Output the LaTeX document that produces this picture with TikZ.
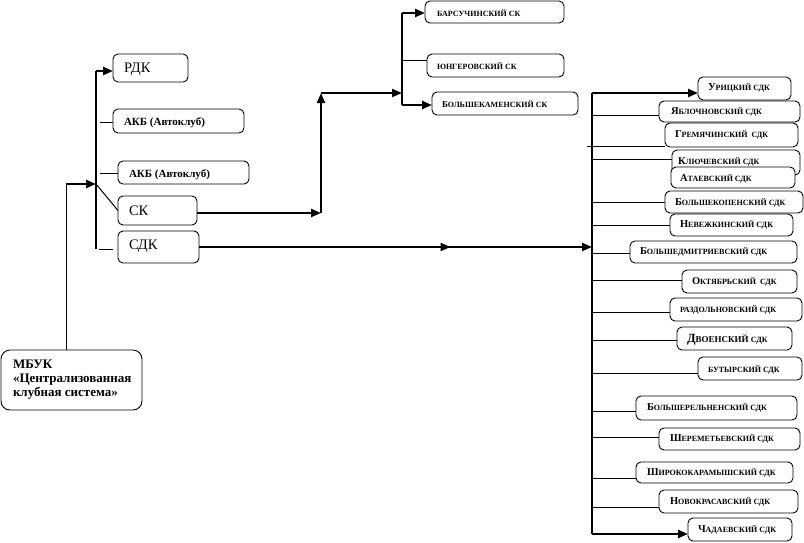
\documentclass[tikz,border=0pt]{standalone}
\usepackage{fontspec}
\setmainfont{Liberation Serif}
\usetikzlibrary{arrows.meta,decorations.markings}
\newcommand\cp[2]{{\fontsize{10.5}{12}\selectfont #1}{\fontsize{8}{10}\selectfont #2}}
\newcommand\bx[5]{\node[bbox, minimum width={(#4-#2)*1pt}, minimum height={(#5-#3)*1pt}, anchor=north west] (#1) at (#2,#3) {};}
\tikzset{
  bbox/.style={draw, fill=white, rounded corners=5pt, line width=0.9pt, inner sep=0pt, outer sep=0pt},
  lbl/.style={inner sep=0pt, outer sep=0pt, anchor=west, font=\bfseries},
  thinln/.style={line width=1pt},
  trunk/.style={line width=1.4pt},
  thickln/.style={line width=2.4pt},
  tip/.style={-{Triangle[length=10pt,width=8pt]}},
  midtip/.style={postaction={decorate}, decoration={markings, mark=at position #1 with {\arrow{Triangle[length=10pt,width=8pt]}}}},
}
\begin{document}
\begin{tikzpicture}[x=1pt,y=-1pt]
\useasboundingbox[fill=white] (0,0) rectangle (804,542);
% left boxes
\bx{rdk}{113}{54}{188}{82}
\bx{akbA}{113}{109}{244}{133}
\bx{akbB}{118}{161}{249}{184}
\bx{sk}{118}{196}{197}{225}
\bx{sdk}{118}{231}{199}{263}
\node[bbox, rounded corners=9pt, minimum width=141pt, minimum height=60pt, anchor=north west] (mbuk) at (1,350) {};
\node[lbl, font=\fontsize{14.5}{16}\selectfont] (trdk) at (124,69) {РДК};
\node[lbl, font=\bfseries\fontsize{11}{13}\selectfont] (takbA) at (124,123) {АКБ (Автоклуб)};
\node[lbl, font=\bfseries\fontsize{11}{13}\selectfont] (takbB) at (129,175) {АКБ (Автоклуб)};
\node[lbl, font=\fontsize{14.5}{16}\selectfont] (tsk) at (129,211) {СК};
\node[lbl, font=\fontsize{14.5}{16}\selectfont] (tsdk) at (129,246) {СДК};
\node[lbl, anchor=north west, align=left, font=\bfseries\fontsize{13}{14}\selectfont] (tmbuk) at (13,360) {МБУК\\«Централизованная\\клубная система»};
% top boxes
\bx{bars}{425}{1}{564}{23}
\bx{yung}{427}{54}{564}{77}
\bx{bkam}{432}{92}{578}{115}
\node[lbl] (tbars) at (437,13) {\cp{}{БАРСУЧИНСКИЙ СК}};
\node[lbl] (tyung) at (437,66) {\cp{}{ЮНГЕРОВСКИЙ СК}};
\node[lbl] (tbkam) at (442,104) {\cp{\fontsize{9}{10}\selectfont Б}{ОЛЬШЕКАМЕНСКИЙ СК}};
% right boxes
\bx{uric}{698}{77}{791}{100}
\bx{yabl}{659}{101}{800}{122}
\bx{grem}{665}{123}{798}{147}
\bx{klyu}{672}{150}{800}{175}
\node[lbl] (tklyu) at (678,162) {\cp{К}{ЛЮЧЕВСКИЙ СДК}};
\bx{atae}{671}{167}{795}{188}
\bx{bkop}{665}{191}{803}{213}
\bx{nevz}{670}{214}{793}{236}
\bx{bdmi}{630}{241}{797}{263}
\bx{okt}{682}{270}{797}{293}
\bx{razd}{670}{298}{802}{321}
\bx{dvoe}{677}{327}{792}{350}
\bx{butr}{698}{357}{802}{380}
\bx{brel}{636}{396}{797}{420}
\bx{sher}{659}{428}{800}{450}
\bx{shir}{636}{462}{793}{483}
\bx{novo}{659}{490}{798}{513}
\bx{chad}{688}{518}{792}{541}
\node[lbl] (turic) at (708,88) {\cp{У}{РИЦКИЙ СДК}};
\node[lbl] (tyabl) at (671,112) {\cp{Я}{БЛОЧНОВСКИЙ СДК}};
\node[lbl] (tgrem) at (675,135) {\cp{Г}{РЕМЯЧИНСКИЙ \ СДК}};
\node[lbl] (tatae) at (680,179) {\cp{А}{ТАЕВСКИЙ СДК}};
\node[lbl] (tbkop) at (675,203) {\cp{Б}{ОЛЬШЕКОПЕНСКИЙ СДК}};
\node[lbl] (tnevz) at (680,225) {\cp{Н}{ЕВЕЖКИНСКИЙ СДК}};
\node[lbl] (tbdmi) at (640,252) {\cp{Б}{ОЛЬШЕДМИТРИЕВСКИЙ СДК}};
\node[lbl] (tokt) at (692,282) {\cp{О}{КТЯБРЬСКИЙ \ СДК}};
\node[lbl] (trazd) at (680,310) {\cp{}{РАЗДОЛЬНОВСКИЙ СДК}};
\node[lbl] (tdvoe) at (687,340) {\cp{\fontsize{12.5}{14}\selectfont Д}{\fontsize{9}{11}\selectfont ВОЕНСКИЙ \fontsize{8}{10}\selectfont СДК}};
\node[lbl] (tbutr) at (708,370) {\cp{}{БУТЫРСКИЙ СДК}};
\node[lbl] (tbrel) at (647,408) {\cp{Б}{ОЛЬШЕРЕЛЬНЕНСКИЙ СДК}};
\node[lbl] (tsher) at (670,439) {\cp{Ш}{ЕРЕМЕТЬЕВСКИЙ СДК}};
\node[lbl] (tshir) at (647,473) {\cp{Ш}{ИРОКОКАРАМЫШСКИЙ СДК}};
\node[lbl] (tnovo) at (670,502) {\cp{Н}{ОВОКРАСАВСКИЙ СДК}};
\node[lbl] (tchad) at (698,530) {\cp{Ч}{АДАЕВСКИЙ СДК}};
% ---- left connectors
\coordinate (lA) at (66,184);
\coordinate (lB) at (96,184);
\coordinate (lTop) at (96,71);
\coordinate (lBot) at (96,249);
\draw[thinln] (lA |- mbuk.north) -- (lA);
\draw[thickln, tip] (lA) -- (lB);
\draw[trunk] (lTop) -- (lBot);
\draw[thickln, tip] (lTop) -- (lTop -| rdk.west);
\coordinate (tkA) at (100,122);
\coordinate (tkB) at (100,173);
\coordinate (tkC) at (99,249);
\coordinate (tkCe) at (113,249);
\draw[thinln] (tkA) -- (tkA -| akbA.west);
\draw[thinln] (tkB) -- (tkB -| akbB.west);
\draw[thinln] (lB) -- (sk.west);
\draw[thinln] (tkC) -- (tkCe);
% ---- СК branch
\coordinate (sk1) at (321,213);
\coordinate (sk2) at (321,93);
\coordinate (sk3) at (402,93);
\coordinate (skTop) at (402,13);
\coordinate (skMid) at (402,60);
\coordinate (skBot) at (402,105);
\draw[thickln, tip] (sk.east |- sk1) -- (sk1);
\draw[line width=2pt, tip] (sk1) -- (sk2);
\draw[line width=2pt, tip] (sk2) -- (sk3);
\draw[trunk] (skTop) -- (skBot);
\draw[thickln, tip] (skTop) -- (skTop -| bars.west);
\draw[thinln] (skMid) -- (skMid -| yung.west);
\draw[thickln, tip] (skBot) -- (skBot -| bkam.west);
% ---- СДК branch
\coordinate (rT) at (592,93);
\coordinate (rB) at (592,534);
\coordinate (rS) at (592,247);
\draw[line width=2pt, tip, midtip=0.64] (sdk.east |- rS) -- (rS);
\draw[trunk] (rT) -- (rB);
\draw[thickln, tip] (rT) -- (rT -| uric.west);
\draw[thickln, tip] (rB) -- (rB -| chad.west);
\foreach \yy/\bb in {115/yabl,159/klyu,202/bkop,225/nevz,253/bdmi,280/okt,312/razd,340/dvoe,373/butr,411/brel,437/sher,478/shir,507/novo}{
  \coordinate (tk-\bb) at (592,\yy);
  \draw[thinln] (tk-\bb) -- (tk-\bb -| \bb.west);
}
\coordinate (tkg) at (587,146);
\draw[thinln] (tkg) -- (tkg -| grem.west);
\end{tikzpicture}
\end{document}
